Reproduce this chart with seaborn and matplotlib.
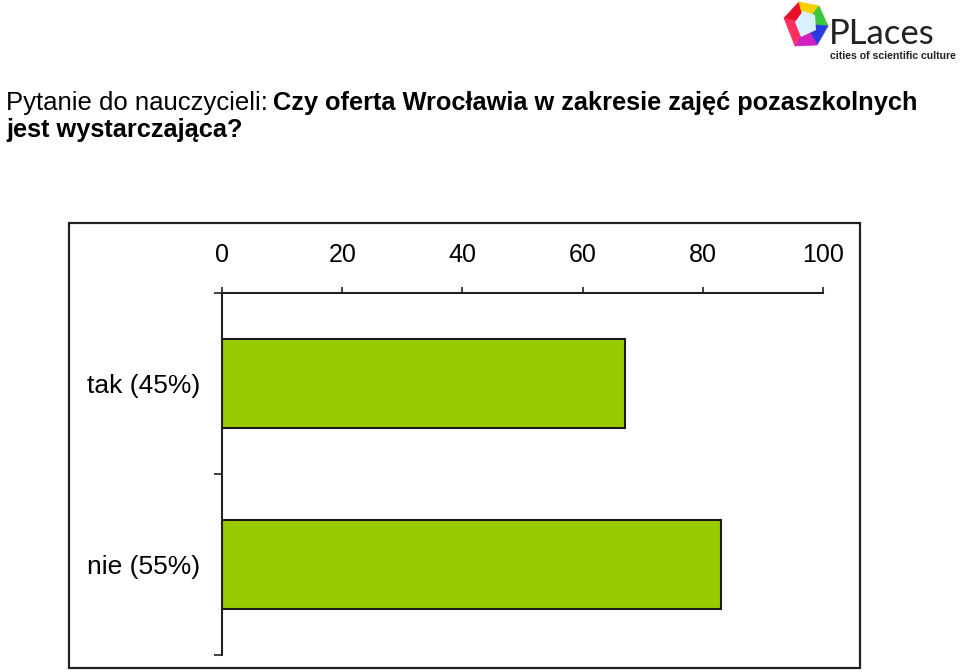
import matplotlib
matplotlib.use("Agg")
import matplotlib.pyplot as plt
import matplotlib.patches as mpatches
from matplotlib.ticker import FixedLocator
import seaborn as sns

# data
categories = ["tak (45%)", "nie (55%)"]
values = [67, 83]
x_ticks = [0, 20, 40, 60, 80, 100]

sns.set_style("white")
plt.rcParams["font.family"] = ["Liberation Sans", "DejaVu Sans"]
plt.rcParams["text.color"] = "black"
plt.rcParams["xtick.labelcolor"] = "black"
plt.rcParams["ytick.labelcolor"] = "black"

fig = plt.figure(figsize=(9.6, 6.72), dpi=100)
W, H = 960, 672

# outer frame round the plot
frame = mpatches.Rectangle((69 / W, 1 - 668 / H), (860 - 69) / W, (668 - 223) / H,
                           transform=fig.transFigure, fill=False,
                           edgecolor="#222222", linewidth=1.6)
fig.add_artist(frame)

ax = fig.add_axes([222 / W, 1 - 655 / H, (823 - 222) / W, (655 - 293) / H])
sns.barplot(x=values, y=categories, orient="h", color="#99cc00",
            edgecolor="#1a1a1a", linewidth=1.5, width=0.49, saturation=1, ax=ax)

ax.set_xlim(0, 100)
ax.set_ylim(1.5, -0.5)
ax.xaxis.tick_top()
ax.set_xticks(x_ticks)
ax.set_xticklabels([str(t) for t in x_ticks])
ax.tick_params(axis="x", direction="out", length=4.5, width=1.2, color="#222222",
               labelsize=18, pad=14)
ax.yaxis.set_minor_locator(FixedLocator([-0.5, 0.5, 1.5]))
ax.tick_params(axis="y", which="major", length=0, labelsize=19, pad=16)
ax.tick_params(axis="y", which="minor", direction="out", length=6, width=1.2,
               color="#222222", left=True)
ax.set_xlabel("")
ax.set_ylabel("")
for s in ["right", "bottom"]:
    ax.spines[s].set_visible(False)
for s in ["top", "left"]:
    ax.spines[s].set_visible(True)
    ax.spines[s].set_linewidth(1.5)
    ax.spines[s].set_color("#222222")

# title, regular part then bold part
t1 = fig.text(6 / W, 1 - 110 / H, "Pytanie do nauczycieli:", fontsize=18.5,
              ha="left", va="baseline")
fig.canvas.draw()
ax.annotate("Czy oferta Wrocławia w zakresie zajęć pozaszkolnych",
            xy=(1, 0), xycoords=t1, xytext=(4, 0), textcoords="offset points",
            fontsize=18.3, fontweight="bold", ha="left", va="bottom",
            annotation_clip=False)
fig.text(6 / W, 1 - 137 / H, "jest wystarczająca?", fontsize=18.3,
         fontweight="bold", ha="left", va="baseline")

# PLACES logo, rough sketch
logo_cols = ["#e8102a", "#f7d000", "#3cc83c", "#2a3ce0", "#d020c0", "#ff3060"]
cx, cy = 805, 24
pts = [(-21, -6), (-6, -22), (14, -18), (23, 2), (12, 21), (-10, 22), (-21, -6)]
for i, col in enumerate(logo_cols):
    a, b = pts[i], pts[i + 1]
    tri = mpatches.Polygon([(cx / W, 1 - cy / H),
                            ((cx + a[0]) / W, 1 - (cy + a[1]) / H),
                            ((cx + b[0]) / W, 1 - (cy + b[1]) / H)],
                           closed=True, transform=fig.transFigure,
                           facecolor=col, edgecolor=col, linewidth=0.5)
    fig.add_artist(tri)
inner = mpatches.Polygon([((cx - 10) / W, 1 - (cy - 2) / H), ((cx - 2) / W, 1 - (cy - 13) / H),
                          ((cx + 10) / W, 1 - (cy - 9) / H), ((cx + 11) / W, 1 - (cy + 6) / H),
                          ((cx - 4) / W, 1 - (cy + 13) / H)],
                         closed=True, transform=fig.transFigure,
                         facecolor="#d8f0ff", edgecolor="none")
fig.add_artist(inner)
fig.text(829 / W, 1 - 44 / H, "PLaces", fontsize=25,
         color="#222222", ha="left", va="baseline", family=["Lato", "DejaVu Sans"])
fig.text(830 / W, 1 - 59 / H, "cities of scientific culture", fontsize=7.6,
         fontweight="bold", color="#222222", ha="left", va="baseline")

fig.savefig("out.png", dpi=100)
